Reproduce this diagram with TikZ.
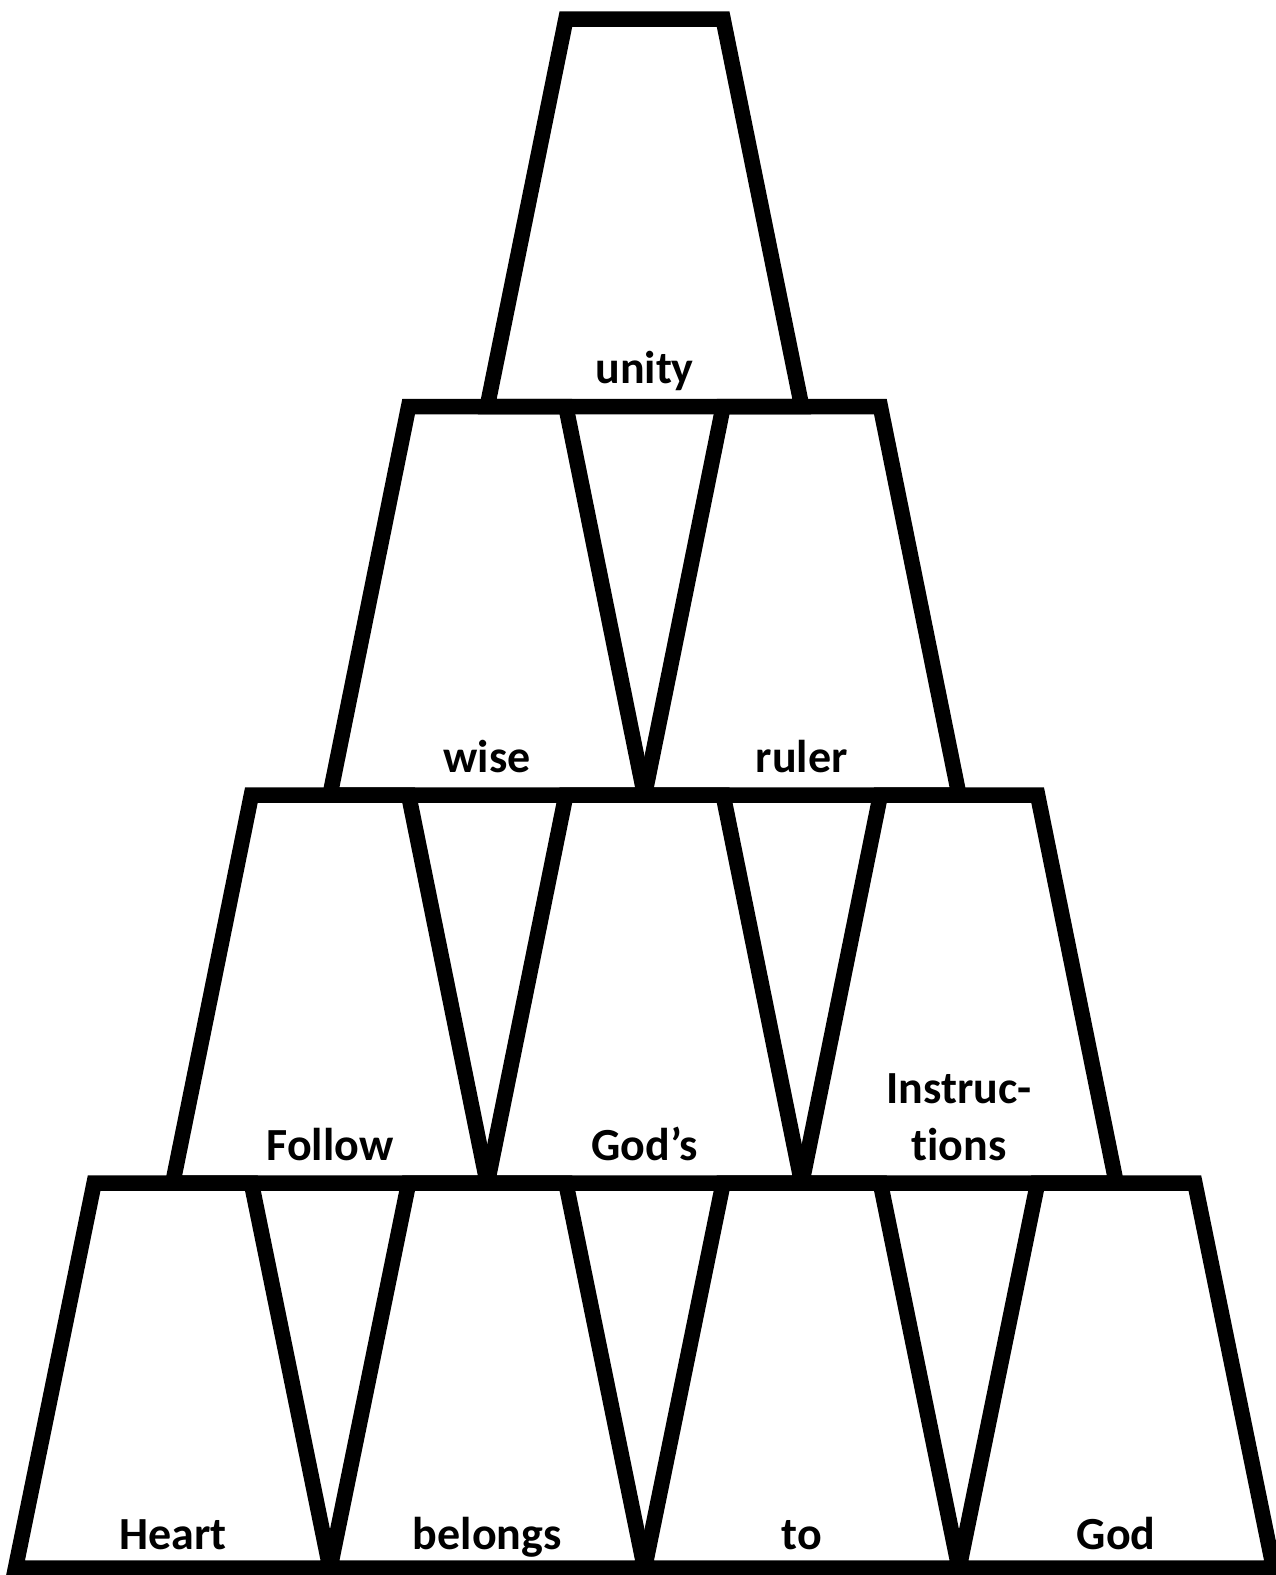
\documentclass[tikz,border=0pt]{standalone}
\usepackage{fontspec}
\setmainfont{Carlito}[RawFeature={-liga}]
\begin{document}
\begin{tikzpicture}[x=1pt,y=-1pt,
  cup/.style={draw=black,line width=15.5pt,line join=miter},
  lbl/.style={anchor=base,font=\fontsize{46}{57}\selectfont\bfseries,inner sep=0pt}]
\useasboundingbox (0,0) rectangle (1275,1575);
% cups: \cupat{center x}{top y}{bottom y}
\newcommand\cupat[3]{\draw[cup] (#1-78.6,#2) -- (#1+78.6,#2) -- (#1+157.25,#3) -- (#1-157.25,#3) -- cycle;}
% row 4
\cupat{172.75}{1183}{1568}
\cupat{487.25}{1183}{1568}
\cupat{801.75}{1183}{1568}
\cupat{1116.25}{1183}{1568}
% row 3
\cupat{330}{795}{1183}
\cupat{644.5}{795}{1183}
\cupat{959}{795}{1183}
% row 2
\cupat{487.25}{406.5}{795}
\cupat{801.75}{406.5}{795}
% row 1
\cupat{644.5}{19}{406.5}
% labels
\node[lbl] (heart) at (172.75,1549) {Heart};
\node[lbl] (belongs) at (487.25,1549) {belongs};
\node[lbl] (to) at (801.75,1549) {to};
\node[lbl] (god) at (1116.25,1549) {God};
\node[lbl] (follow) at (330,1160) {Follow};
\node[lbl] (gods) at (644.5,1160) {God’s};
\node[lbl] (tions) at (959,1160) {tions};
\node[lbl] (instruc) at (959,1103) {Instruc-};
\node[lbl] (wise) at (487.25,772) {wise};
\node[lbl] (ruler) at (801.75,772) {ruler};
\node[lbl] (unity) at (644.5,383) {unity};
\end{tikzpicture}
\end{document}
